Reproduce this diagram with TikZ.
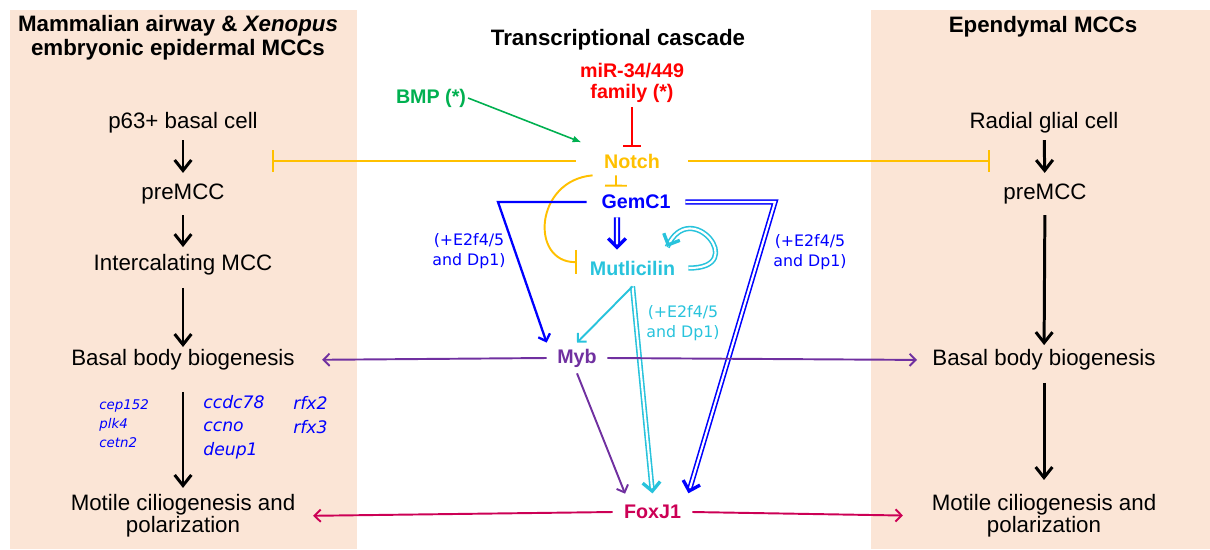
\documentclass[tikz,border=0pt]{standalone}
\usepackage{fontspec}
\setmainfont{Liberation Sans}
\newfontfamily\labelfont{DejaVu Sans}
\usetikzlibrary{arrows.meta,calc,decorations.markings}
\definecolor{panel}{RGB}{251,229,214}
\definecolor{notchorange}{RGB}{255,192,0}
\definecolor{bmpgreen}{RGB}{0,176,80}
\definecolor{mirred}{RGB}{255,0,0}
\definecolor{gemblue}{RGB}{0,0,255}
\definecolor{multcyan}{RGB}{40,195,220}
\definecolor{mybpurple}{RGB}{112,48,160}
\definecolor{foxcrimson}{RGB}{204,0,85}

\begin{document}
\begin{tikzpicture}[x=0.02cm, y=-0.02cm,
        cell/.style={font=\fontsize{12.7}{12.5}\selectfont, align=center, inner sep=0pt},
        head/.style={font=\fontsize{12.7}{13.6}\selectfont\bfseries, align=center, inner sep=0pt},
        tf/.style={font=\fontsize{11.2}{12}\selectfont\bfseries, align=center, inner sep=0pt},
        note/.style={font=\labelfont\fontsize{9}{11.4}\selectfont, align=center, inner sep=0pt},
        gene/.style={font=\labelfont\itshape\fontsize{9.8}{13.4}\selectfont, text=gemblue, align=left, anchor=west, inner sep=0pt},
        smallgene/.style={gene, font=\labelfont\itshape\fontsize{7.6}{10.8}\selectfont},
        flow/.style={-{Straight Barb[length=6pt,width=9.5pt]}, line width=1.7pt},
        inhib/.style={-{Bar[width=#1]}, line width=1.1pt},
        inhib/.default=12pt,
        thin/.style={-{Straight Barb[length=3.5pt,width=7pt]}, line width=1.1pt},
        dbl/.style={draw=#1, double=white, double distance=1.2pt, line width=0.9pt},
        dbltip/.style={postaction={decorate, decoration={markings,
            mark=at position 0.999 with {\arrow[#1]{Straight Barb[length=5pt,width=10pt,line width=1.9pt]}}}}}]

        % panels
        \fill[panel] (10,10) rectangle (357,549);
        \fill[panel] (871,10) rectangle (1210,549);
        \useasboundingbox (0,0) rectangle (1210,549);

        % headings
        \node[head] (headL) at (178,38) {Mammalian airway \& \textit{Xenopus}\\embryonic epidermal MCCs};
        \node[head] (headC) at (618,40) {Transcriptional cascade};
        \node[head] (headR) at (1043,27) {Ependymal MCCs};

        % airway / epidermis column
        \node[cell] (p63) at (183,123) {p63+ basal cell};
        \node[cell] (preL) at (183,194) {preMCC};
        \node[cell] (interL) at (183,265) {Intercalating MCC};
        \node[cell] (basalL) at (183,360) {Basal body biogenesis};
        \node[cell] (motileL) at (183,516) {Motile ciliogenesis and\\polarization};

        % ependymal column
        \node[cell] (radial) at (1044,123) {Radial glial cell};
        \node[cell] (preR) at (1045,194) {preMCC};
        \node[cell] (basalR) at (1044,360) {Basal body biogenesis};
        \node[cell] (motileR) at (1044,516) {Motile ciliogenesis and\\polarization};

        % cascade
        \node[tf, text=bmpgreen, inner sep=1pt] (bmp) at (431,98) {BMP (*)};
        \node[tf, text=mirred] (mir) at (632,83) {miR-34/449\\family (*)};
        \node[tf, text=notchorange, minimum width=2.24cm, minimum height=0.56cm] (notch) at (632,161) {Notch};
        \node[tf, text=gemblue, minimum width=1.96cm, minimum height=0.6cm] (gemc) at (636,202) {GemC1};
        \node[tf, text=multcyan, minimum width=2.22cm, minimum height=0.72cm] (mult) at (632.5,268) {Mutlicilin};
        \node[tf, text=mybpurple, minimum width=1.2cm, minimum height=0.6cm] (myb) at (577,358) {Myb};
        \node[tf, text=foxcrimson, minimum width=1.58cm, minimum height=0.72cm] (foxj) at (652.5,512) {FoxJ1};

        \node[note, text=gemblue] (cofacL) at (469,251) {(+E2f4/5\\and Dp1)};
        \node[note, text=gemblue] (cofacR) at (810,252) {(+E2f4/5\\and Dp1)};
        \node[note, text=multcyan] (cofacC) at (683,323) {(+E2f4/5\\and Dp1)};

        % target genes
        \node[smallgene] (centgenes) at (99,424) {cep152\\plk4\\cetn2};
        \node[gene] (deupgenes) at (203,427) {ccdc78\\ccno\\deup1};
        \node[gene] (rfxgenes) at (293,415) {rfx2\\rfx3};

        \coordinate (blockL) at (272,161);
        \coordinate (blockR) at (990,161);
        \coordinate (gemL) at (498,202);
        \coordinate (gemR) at (775,202);
        \coordinate (gemS) at ([xshift=-10.8pt]gemc.south);
        \coordinate (multN) at ([xshift=-8.8pt]mult.north);
        \coordinate (foxNE) at ([xshift=-2.3pt]foxj.north east);
        \coordinate (foxNW) at ([xshift=-15.6pt]foxj.north);
        \coordinate (loopEnd) at ([xshift=-12pt,yshift=1.5pt]mult.north east);

        % differentiation steps
        \draw[flow, shorten <=9.7pt, shorten >=12pt] (p63.center) -- (preL.center);
        \draw[flow, shorten <=12pt, shorten >=10.2pt] (preL.center) -- (interL.center);
        \draw[flow, shorten <=13pt, shorten >=7.4pt] (interL.center) -- (basalL.center);
        \draw[flow, shorten <=18.2pt, shorten >=16pt] (basalL.center) -- (motileL.center);
        \draw[flow, shorten <=9.7pt, shorten >=12pt] (radial.center) -- (preR.center);
        \draw[flow, shorten <=12pt, shorten >=8.5pt] (preR.center) -- (basalR.center);
        \draw[flow, shorten <=13pt, shorten >=20.5pt] (basalR.center) -- (motileR.center);

        % Notch and its regulators
        \draw[inhib, notchorange] (notch.west) -- (blockL);
        \draw[inhib, notchorange] (notch.east) -- (blockR);
        \draw[inhib=10pt, mirred, shorten <=13.7pt] (mir.center) -- (notch.north);
        \draw[-{Latex[length=5pt,width=4pt]}, bmpgreen, line width=0.9pt, shorten >=6.8pt] (bmp.east) -- (notch.160);
        \draw[inhib=12.5pt, notchorange] ([xshift=-9.1pt]notch.south) -- ([xshift=-11.4pt]gemc.north);
        \draw[inhib=14pt, notchorange] (notch.200) .. controls +(-58,5) and +(-47,0) .. (mult.174);

        % GemC1 and Multicilin
        \draw[dbl=gemblue, dbltip=gemblue, shorten >=2pt] (gemc.east) -- (gemR) -- (foxNE);
        \draw[dbl=gemblue, line width=1.1pt, double distance=1.3pt, dbltip=gemblue, shorten >=2pt] (gemS) -- (multN);
        \draw[dbl=multcyan, dbltip=multcyan] (mult.east) .. controls +(62,1) and +(23,-52) .. (loopEnd);
        \draw[dbl=multcyan, dbltip=multcyan, shorten >=2pt] (mult.south) -- (foxj.north);
        \draw[thin, gemblue, line width=1.3pt] (gemc.west) -- (gemL) -- (myb.north west);
        \draw[thin, multcyan] (mult.south) -- (myb.north);

        % Myb and FoxJ1 outputs
        \draw[thin, mybpurple] (myb.south) -- (foxNW);
        \draw[thin, mybpurple, shorten >=15.4pt] (myb.west) -- (basalL.east);
        \draw[thin, mybpurple, shorten >=8.5pt] (myb.east) -- (basalR.west);
        \draw[thin, foxcrimson, shorten >=10pt] (foxj.west) -- (motileL.east);
        \draw[thin, foxcrimson, shorten >=16.2pt] (foxj.east) -- (motileR.west);

    \end{tikzpicture}
\end{document}
